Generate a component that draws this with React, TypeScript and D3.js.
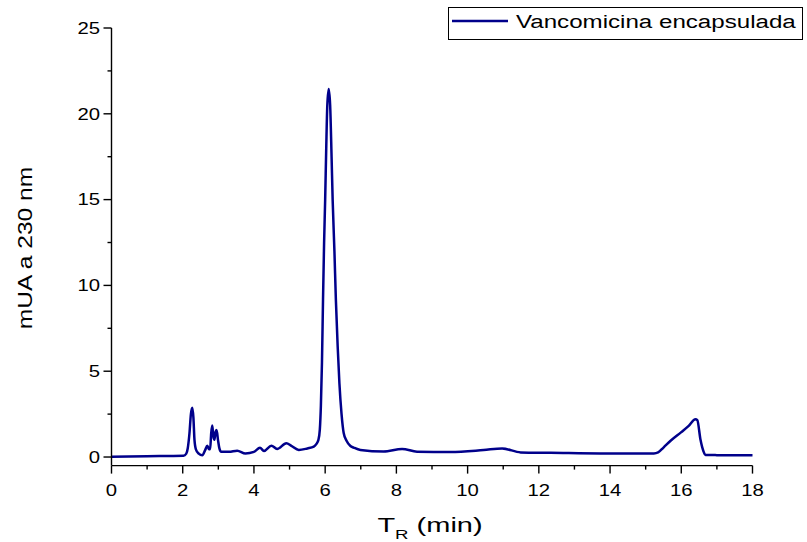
import React from "react";
import * as d3 from "d3";

const times = [
  0, 1.0, 2.02, 2.1, 2.14, 2.19, 2.23, 2.27, 2.3, 2.33, 2.37, 2.45, 2.55, 2.63, 2.69, 2.74, 2.77,
  2.8, 2.83, 2.86, 2.89, 2.92, 2.95, 2.99, 3.03, 3.08, 3.3, 3.53, 3.76, 4.0, 4.17, 4.28, 4.49,
  4.65, 4.91, 5.05, 5.26, 5.5, 5.68, 5.75, 5.81, 5.85, 5.88, 5.91, 5.94, 5.97, 6.0, 6.03, 6.06,
  6.1, 6.14, 6.18, 6.21, 6.26, 6.3, 6.35, 6.4, 6.46, 6.52, 6.6, 6.71, 6.8, 6.99, 7.64, 8.16,
  8.58, 9.52, 10.45, 10.97, 11.49, 12.33, 13.73, 15.23, 15.35, 15.5, 15.7, 16.0, 16.2, 16.4,
  16.45, 16.54, 16.62, 16.68, 17.0, 18.0,
];
const signal = [
  0.02, 0.05, 0.08, 0.2, 0.5, 1.4, 2.5, 2.87, 2.3, 1.0, 0.45, 0.2, 0.1, 0.4, 0.66, 0.45, 0.45,
  1.4, 1.83, 1.2, 1.0, 1.45, 1.57, 1.0, 0.5, 0.3, 0.3, 0.37, 0.21, 0.3, 0.54, 0.35, 0.66,
  0.47, 0.8, 0.65, 0.41, 0.5, 0.6, 0.75, 1.0, 1.6, 3.0, 5.5, 9.2, 12.5, 15.0, 18.0, 20.5,
  21.45, 20.5, 17.5, 15.0, 12.0, 9.2, 6.5, 4.3, 2.5, 1.4, 0.95, 0.64, 0.55, 0.41, 0.32, 0.47,
  0.31, 0.29, 0.41, 0.5, 0.27, 0.25, 0.21, 0.21, 0.27, 0.55, 0.95, 1.45, 1.8, 2.2,
  2.15, 1.0, 0.35, 0.12, 0.11, 0.1,
];

const xMajorTicks = [0, 2, 4, 6, 8, 10, 12, 14, 16, 18];
const xMinorTicks = [1, 3, 5, 7, 9, 11, 13, 15, 17];
const yMajorTicks = [0, 5, 10, 15, 20, 25];
const yMinorTicks = [2.5, 7.5, 12.5, 17.5, 22.5];

const seriesName = "Vancomicina encapsulada";
const yTitle = "mUA a 230 nm";

const FONT = "Arial, 'Liberation Sans', sans-serif";
const COLOR = "#00008B";
const SX = 1.27;

export default function App() {
  const x = d3.scaleLinear().domain([0, 18]).range([111.5, 752.5]);
  const y = d3.scaleLinear().domain([-0.5, 25]).range([465.6, 28]);
  const data = times.map((t, i) => [t, signal[i]] as [number, number]);
  const line = d3
    .line<[number, number]>()
    .x((d) => x(d[0]))
    .y((d) => y(d[1]))
    .curve(d3.curveMonotoneX);
  const axisY = y(-0.5);

  return (
    <svg
      width={807}
      height={542}
      style={{ position: "absolute", left: 0, top: 0, background: "#fff" }}
    >
      <rect x={0} y={0} width={807} height={542} fill="#fff" />
      <path d={line(data) || ""} fill="none" stroke={COLOR} strokeWidth={2.5} strokeLinejoin="round" />

      {/* x axis */}
      <line x1={x(0)} x2={x(18)} y1={axisY} y2={axisY} stroke="#000" strokeWidth={1.4} />
      {xMajorTicks.map((t) => (
        <g key={"xm" + t}>
          <line x1={x(t)} x2={x(t)} y1={axisY} y2={axisY + 8} stroke="#000" strokeWidth={1.4} />
          <g transform={`translate(${x(t)},496) scale(${SX},1)`}>
            <text x={0} y={0} textAnchor="middle" fontFamily={FONT} fontSize={16} fill="#000">
              {t}
            </text>
          </g>
        </g>
      ))}
      {xMinorTicks.map((t) => (
        <line key={"xn" + t} x1={x(t)} x2={x(t)} y1={axisY} y2={axisY + 4} stroke="#000" strokeWidth={1.4} />
      ))}

      {/* y axis */}
      <line x1={x(0)} x2={x(0)} y1={y(25)} y2={axisY} stroke="#000" strokeWidth={1.4} />
      {yMajorTicks.map((v) => (
        <g key={"ym" + v}>
          <line x1={x(0) - 8} x2={x(0)} y1={y(v)} y2={y(v)} stroke="#000" strokeWidth={1.4} />
          <g transform={`translate(100,${y(v) + 5.8}) scale(${SX},1)`}>
            <text x={0} y={0} textAnchor="end" fontFamily={FONT} fontSize={16} fill="#000">
              {v}
            </text>
          </g>
        </g>
      ))}
      {yMinorTicks.map((v) => (
        <line key={"yn" + v} x1={x(0) - 4} x2={x(0)} y1={y(v)} y2={y(v)} stroke="#000" strokeWidth={1.4} />
      ))}

      {/* titles */}
      <g transform={`translate(32,248) rotate(-90) scale(1.17,1)`}>
        <text x={0} y={0} textAnchor="middle" fontFamily={FONT} fontSize={21} fill="#000">
          {yTitle}
        </text>
      </g>
      <g transform={`translate(430,532) scale(1.38,1)`}>
        <text x={0} y={0} textAnchor="middle" fontFamily={FONT} fontSize={21} fill="#000">
          T
          <tspan fontSize={13.5} dy={6.5}>R</tspan>
          <tspan dy={-6.5}> (min)</tspan>
        </text>
      </g>

      {/* legend */}
      <rect x={448.5} y={7.5} width={354} height={32} fill="#fff" stroke="#000" strokeWidth={1} />
      <line x1={452} x2={508} y1={21} y2={21} stroke={COLOR} strokeWidth={2.5} />
      <g transform={`translate(516,27.5) scale(${SX},1)`}>
        <text x={0} y={0} fontFamily={FONT} fontSize={19} fill="#000">
          {seriesName}
        </text>
      </g>
    </svg>
  );
}
